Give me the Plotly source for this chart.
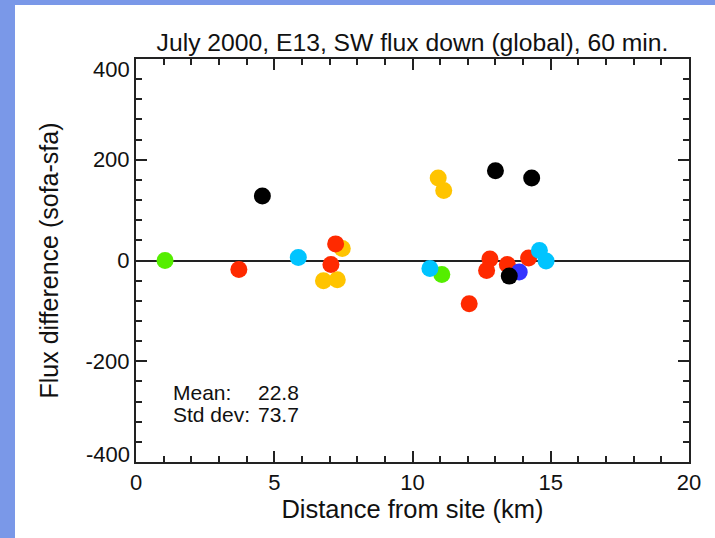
import plotly.graph_objects as go

# Data (distance km, flux difference W/m2)
green_x = [1.05, 11.06]
green_y = [0, -28]
red_x = [3.72, 7.22, 7.05, 12.05, 12.8, 12.68, 13.43, 14.2]
red_y = [-18, 33, -8, -86, 3, -20, -8, 5]
yellow_x = [7.46, 6.78, 7.28, 10.93, 11.13]
yellow_y = [24, -40, -38, 164, 139]
cyan_x = [5.87, 10.63, 14.59, 14.83]
cyan_y = [6, -16, 20, -1]
blue_x = [13.86]
blue_y = [-23]
black_x = [4.57, 13.0, 14.31, 13.5]
black_y = [128, 178, 164, -31]

x_ticks = [0, 5, 10, 15, 20]
y_ticks = [-400, -200, 0, 200, 400]
# inner labels drawn by the axis; the two end labels sit flush inside the box (as in IDL)
y_ticklabels = ["", "-200", "0", "200", ""]
y_end_labels = [("400", 380), ("-400", -386)]

title_text = "July 2000, E13, SW flux down (global), 60 min."
x_title = "Distance from site (km)"
y_title = "Flux difference (sofa-sfa)"
stats_labels = ["Mean:", "Std dev:"]
stats_values = ["22.8", "73.7"]

FONT = "Liberation Sans, Arial, Helvetica, sans-serif"

series = [
    (green_x, green_y, "#55EE00"),
    (yellow_x, yellow_y, "#FFC400"),
    (red_x, red_y, "#FF2A00"),
    (cyan_x, cyan_y, "#00C4FF"),
    (blue_x, blue_y, "#3333FF"),
    (black_x, black_y, "#000000"),
]

fig = go.Figure()
for xs, ys, col in series:
    fig.add_trace(go.Scatter(
        x=xs, y=ys, mode="markers",
        marker=dict(size=17, color=col, line=dict(width=0)),
        showlegend=False, hoverinfo="x+y",
    ))

L, R, T, B = 136, 26, 59, 76
W, H = 715, 538
pw, ph = W - L - R, H - T - B

axis_common = dict(
    showgrid=False, showline=True, linecolor="#222222", linewidth=2,
    mirror="ticks", ticks="inside", ticklen=11, tickwidth=1.5, tickcolor="#222222",
    tickfont=dict(family=FONT, size=22, color="#111"), automargin=False,
)

fig.update_xaxes(
    range=[0, 20], tickvals=x_ticks,
    minor=dict(dtick=1, ticks="inside", ticklen=6, tickwidth=1.5, tickcolor="#222222", showgrid=False),
    zeroline=False,
    title=dict(text=x_title, font=dict(family=FONT, size=25.5, color="#111"), standoff=4),
    **axis_common,
)
fig.update_yaxes(
    range=[-400, 400], tickvals=y_ticks, ticktext=y_ticklabels,
    minor=dict(dtick=40, ticks="inside", ticklen=6, tickwidth=1.5, tickcolor="#222222", showgrid=False),
    zeroline=True, zerolinecolor="#222222", zerolinewidth=2,
    title=dict(text=y_title, font=dict(family=FONT, size=25, color="#111"), standoff=20),
    **axis_common,
)

annotations = []
for lab, yv in y_end_labels:
    annotations.append(dict(x=0, y=yv, xref="paper", yref="y", text=lab, showarrow=False,
                            xanchor="right", yanchor="middle", xshift=-4,
                            font=dict(family=FONT, size=22, color="#111")))
for i, (lab, val) in enumerate(zip(stats_labels, stats_values)):
    yv = -262 - i * 42
    annotations.append(dict(x=1.3, y=yv, xref="x", yref="y", text=lab, showarrow=False,
                            xanchor="left", yanchor="middle", height=18, borderpad=0,
                            font=dict(family=FONT, size=21, color="#111")))
    annotations.append(dict(x=5.93, y=yv, xref="x", yref="y", text=val, showarrow=False,
                            xanchor="right", yanchor="middle", height=18, borderpad=0,
                            font=dict(family=FONT, size=21, color="#111")))

shapes = [
    dict(type="rect", xref="paper", yref="paper",
         x0=-L / pw - 0.01, x1=(15 - L) / pw, y0=-B / ph - 0.01, y1=(H - B) / ph + 0.01,
         fillcolor="#7A98E8", line=dict(width=0), layer="below"),
    dict(type="rect", xref="paper", yref="paper",
         x0=-L / pw - 0.01, x1=(W - L) / pw + 0.01, y0=(H - B - 5) / ph, y1=(H - B) / ph + 0.01,
         fillcolor="#7A98E8", line=dict(width=0), layer="below"),
]

fig.update_layout(
    width=W, height=H,
    margin=dict(l=L, r=R, t=T, b=B),
    paper_bgcolor="white", plot_bgcolor="white",
    title=dict(text=title_text, x=412.5 / W, xanchor="center", y=1 - 42 / H, yanchor="middle",
               font=dict(family=FONT, size=24.7, color="#111")),
    annotations=annotations,
    shapes=shapes,
)

fig.write_html("out.html", config={"displayModeBar": False},
               post_script="document.body.style.margin='0px';document.body.style.overflow='hidden';")
